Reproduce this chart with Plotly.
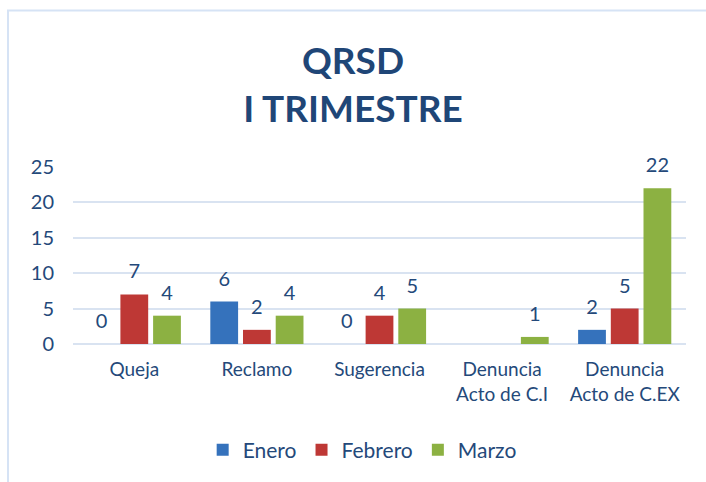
import plotly.graph_objects as go

categories = ["Queja", "Reclamo", "Sugerencia", "Denuncia<br>Acto de C.I", "Denuncia<br>Acto de C.EX"]
enero = [0, 6, 0, None, 2]
febrero = [7, 2, 4, None, 5]
marzo = [4, 4, 5, 1, 22]
series = [("Enero", enero, "#3572BC"), ("Febrero", febrero, "#BE3835"), ("Marzo", marzo, "#8CB142")]
y_ticks = [0, 5, 10, 15, 20, 25]

TXT = "#24497A"
FONT = "Lato, Open Sans, sans-serif"
W, H = 706, 482
ML, MR, MT, MB = 73, 20, 167, 138
GAP = 0.2

fig = go.Figure()
for name, vals, col in series:
    fig.add_trace(go.Bar(
        name=name, x=categories, y=vals, marker_color=col, marker_line_width=0,
        offsetgroup="b" + name, alignmentgroup="bars", cliponaxis=False,
    ))
for name, vals, col in series:
    fig.add_trace(go.Scatter(
        name=name, x=categories, y=vals, mode="markers+text",
        offsetgroup="s" + name, alignmentgroup="pts",
        marker=dict(size=16, opacity=0, color=col),
        text=[("" if v is None else str(v)) for v in vals],
        textposition="top center", cliponaxis=False, showlegend=False,
        textfont=dict(size=20, color=TXT, family=FONT),
    ))

pw = W - ML - MR
ph = H - MT - MB
fig.add_shape(type="rect", xref="paper", yref="paper",
              x0=(8 - ML) / pw, x1=(720 - ML) / pw,
              y0=(H - 500 - MB) / ph, y1=(H - 10.5 - MB) / ph,
              line=dict(color="#D6E3F5", width=2), fillcolor="rgba(0,0,0,0)", layer="below")

fig.update_layout(
    width=W, height=H,
    margin=dict(l=ML, r=MR, t=MT, b=MB),
    paper_bgcolor="white", plot_bgcolor="white",
    font=dict(family=FONT, color=TXT),
    title=dict(text="<b>QRSD<br>I TRIMESTRE</b>", x=0.5, xanchor="center",
               y=1 - 74 / H, yanchor="middle", yref="container",
               font=dict(size=37, color="#1F4677", family=FONT)),
    barmode="group", bargap=GAP, bargroupgap=0.15,
    scattermode="group", scattergap=GAP,
    showlegend=True,
    legend=dict(orientation="h", x=0.513, xanchor="center", xref="container",
                y=1 - 450 / H, yanchor="middle", yref="container",
                font=dict(size=21, color=TXT, family=FONT), itemwidth=30),
    hovermode=False,
)
fig.update_yaxes(range=[0, 25], tickvals=y_ticks, showgrid=True, gridcolor="#D9E3F1", gridwidth=1.5,
                 zeroline=True, zerolinecolor="#D9E3F1", zerolinewidth=1.5,
                 tickfont=dict(size=20, color=TXT, family=FONT), ticks="", showline=False,
                 ticklabelstandoff=18)
fig.update_xaxes(tickfont=dict(size=19, color=TXT, family=FONT), showline=False, ticks="",
                 ticklabelstandoff=12)

fig.write_html("out.html", config={"displayModeBar": False},
               post_script="document.body.style.margin='0';")
